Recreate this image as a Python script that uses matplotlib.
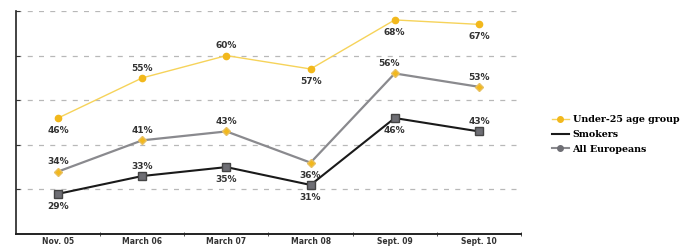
import matplotlib
matplotlib.use("Agg")
import matplotlib.pyplot as plt
from matplotlib.lines import Line2D

categories = ["Nov. 05", "March 06", "March 07", "March 08", "Sept. 09", "Sept. 10"]
under25 = [46, 55, 60, 57, 68, 67]
smokers = [34, 41, 43, 36, 56, 53]
all_europeans = [29, 33, 35, 31, 46, 43]
series_names = ["Under-25 age group", "Smokers", "All Europeans"]

# label placement: offsets in points (dx, dy)
off_u = [(0, -9), (0, 7), (0, 7), (0, -9), (0, -9), (0, -9)]
off_s = [(0, 7), (0, 7), (0, 7), (0, -9), (-4, 7), (0, 7)]
off_a = [(0, -9), (0, 7), (0, -9), (0, -9), (0, -9), (0, 7)]

fig = plt.figure(figsize=(6.88, 2.49), dpi=100)
ax = fig.add_axes([16/688, 15/249, (521-16)/688, (234-11)/249])

x = list(range(len(categories)))
yel_line = "#F6D35A"
yel_mark = "#F2B81C"
grey_line = "#8A8A8E"
black_line = "#1A1A1A"
sq_col = "#6E6E74"

ax.plot(x, under25, color=yel_line, lw=1.0, marker="o", ms=4.5, mfc=yel_mark, mec=yel_mark, zorder=3)
ax.plot(x, smokers, color=grey_line, lw=1.6, marker="D", ms=4, mfc=yel_mark, mec="#E8C060", zorder=3)
ax.plot(x, all_europeans, color=black_line, lw=1.5, marker="s", ms=5.5, mfc=sq_col, mec="#444444", zorder=3)

for vals, offs in ((under25, off_u), (smokers, off_s), (all_europeans, off_a)):
    for xi, v, (dx, dy) in zip(x, vals, offs):
        ax.annotate(f"{v}%", (xi, v), xytext=(dx, dy), textcoords="offset points",
                    ha="center", va="center", fontsize=6.5, fontweight="bold", color="#333333")

ax.set_xlim(-0.5, len(categories) - 0.5)
ax.set_ylim(20, 70)
ax.set_yticks([30, 40, 50, 60, 70])
ax.yaxis.grid(True, linestyle=(0, (4, 5)), color="#B8B8B8", lw=0.9)
ax.set_yticklabels([])
ax.tick_params(axis="y", length=3, direction="in", color="#333333")
ax.set_xticks(x)
ax.set_xticklabels(categories, fontsize=5.5, fontweight="bold", color="#333333")
ax.tick_params(axis="x", length=0, pad=2.5)
ax.set_xticks([i + 0.5 for i in x[:-1]] + [len(categories) - 0.5], minor=True)
ax.tick_params(axis="x", which="minor", length=3, direction="inout", color="#333333")
for s in ("top", "right"):
    ax.spines[s].set_visible(False)
ax.spines["left"].set_color("#222222")
ax.spines["bottom"].set_color("#222222")
ax.spines["left"].set_linewidth(1.2)
ax.spines["bottom"].set_linewidth(1.4)

handles = [
    Line2D([], [], color=yel_line, lw=1.0, marker="o", ms=4, mfc=yel_mark, mec=yel_mark),
    Line2D([], [], color=black_line, lw=1.5),
    Line2D([], [], color=grey_line, lw=1.5, marker="o", ms=4, mfc=sq_col, mec=sq_col),
]
fig.legend(handles, series_names, loc="center left", bbox_to_anchor=(0.802, 0.46),
           frameon=False, handlelength=1.8, handletextpad=0.4, labelspacing=0.6,
           borderaxespad=0, borderpad=0,
           prop={"family": "DejaVu Serif", "weight": "bold", "size": 6.8})

fig.savefig("out.png", dpi=100)
